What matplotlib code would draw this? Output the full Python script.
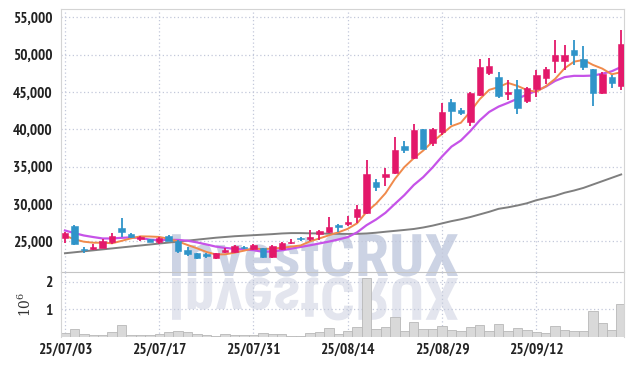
import matplotlib
matplotlib.use('Agg')
import matplotlib.pyplot as plt
import numpy as np
import pandas as pd
from matplotlib.textpath import TextPath
from matplotlib.patches import PathPatch
from matplotlib.font_manager import FontProperties
from matplotlib.transforms import Affine2D

# daily OHLC (KRW), 2025-07-03 .. 2025-09-25
opens = [25480, 27000, 24000, 23970, 24150, 24870, 26750, 26000, 25280, 25250,
         24900, 25700, 25050, 23900, 23400, 23250, 22800, 23600, 23600, 24200,
         23950, 24050, 22850, 23950, 24750, 25350, 25300, 25980, 26250, 27250,
         27280, 28300, 28800, 32950, 33650, 34100, 37750, 36150, 40000, 38100,
         39700, 43650, 42600, 41000, 44600, 47580, 47000, 44680, 45450, 43850,
         45450, 46800, 49200, 49200, 50600, 49350, 48050, 44800, 47000, 45850]
highs = [26300, 27250, 24300, 24600, 25300, 26070, 28100, 26150, 25750, 25350,
         25550, 25800, 25200, 24280, 23450, 23500, 23450, 24100, 24500, 24350,
         24600, 24150, 24450, 24950, 25250, 25620, 26500, 26450, 28300, 27300,
         28400, 29900, 35950, 33400, 34800, 39000, 38430, 40700, 40050, 40200,
         43500, 44000, 42800, 45000, 49400, 49500, 47700, 46540, 46600, 45700,
         47950, 48300, 51950, 51300, 51900, 51150, 48100, 47600, 47250, 53300]
lows = [24800, 24500, 23500, 23900, 24100, 24600, 25600, 25500, 25100, 24850,
        24600, 25000, 23500, 23030, 22650, 22800, 22600, 23500, 23500, 23950,
        23800, 22750, 22800, 23850, 24600, 25000, 25040, 25150, 26100, 26300,
        27100, 27400, 28700, 31800, 32400, 34000, 36860, 36000, 37300, 37800,
        39250, 40600, 41900, 40450, 44400, 47270, 44200, 43860, 42000, 43500,
        44300, 46000, 47500, 48000, 48550, 47950, 43100, 44700, 45550, 45200]
closes = [26150, 24700, 23900, 24280, 25050, 25750, 26300, 25600, 25620, 24950,
          25450, 25100, 23750, 23300, 22750, 23000, 23400, 23850, 24400, 24100,
          24500, 22850, 24350, 24800, 24950, 25280, 25580, 26340, 26870, 26950,
          27620, 29330, 33950, 32300, 33970, 37200, 37250, 39900, 37400, 40000,
          42270, 42500, 42200, 44900, 48300, 48470, 44400, 44950, 42900, 45550,
          47250, 48100, 49950, 49950, 50000, 48400, 44800, 47450, 46150, 51400]
# volume in millions of shares
volumes = [0.14, 0.29, 0.12, 0.07, 0.07, 0.19, 0.43, 0.07, 0.07, 0.07,
           0.12, 0.17, 0.23, 0.17, 0.12, 0.07, 0.05, 0.10, 0.08, 0.08,
           0.07, 0.15, 0.10, 0.10, 0.05, 0.05, 0.14, 0.19, 0.32, 0.12,
           0.20, 0.36, 2.12, 0.30, 0.36, 0.74, 0.23, 0.56, 0.29, 0.29,
           0.40, 0.25, 0.22, 0.35, 0.43, 0.23, 0.47, 0.22, 0.32, 0.25,
           0.19, 0.15, 0.40, 0.27, 0.23, 0.23, 0.95, 0.51, 0.27, 1.20]
# moving-average values before a full window is available
ma5_head = [25750, 25270, 24950, 24810]
ma10_head = [26450, 26100, 25780, 25570, 25380, 25380, 25470, 25520, 25450]
# long moving average
ma60 = [23400, 23530, 23660, 23790, 23920, 24050, 24180, 24310, 24440, 24570,
        24700, 24830, 24960, 25090, 25220, 25350, 25480, 25580, 25680, 25750,
        25820, 25890, 25960, 26050, 26100, 26100, 26070, 26050, 26020, 26000,
        25990, 26000, 26050, 26150, 26280, 26400, 26520, 26650, 26850, 27100,
        27400, 27700, 27950, 28250, 28600, 28950, 29350, 29550, 29800, 30090,
        30500, 30800, 31100, 31500, 31800, 32150, 32600, 33050, 33500, 33950]
tick_idx = [0, 10, 20, 30, 40, 50]
tick_labels = ['25/07/03', '25/07/17', '25/07/31', '25/08/14', '25/08/29', '25/09/12']

up_color = '#e3186a'
down_color = '#2f94c9'
grid_color = '#c3c8da'
font = ['PT Sans Narrow', 'DejaVu Sans']
plt.rcParams['font.family'] = font
plt.rcParams['font.weight'] = 'bold'
plt.rcParams['mathtext.fontset'] = 'dejavuserif'

df = pd.DataFrame({'open': opens, 'high': highs, 'low': lows, 'close': closes, 'vol': volumes})
idx = np.arange(len(df))
ma5 = df['close'].rolling(5).mean().to_numpy()
ma5[:4] = ma5_head
ma10 = df['close'].rolling(10).mean().to_numpy()
ma10[:9] = ma10_head

fig = plt.figure(figsize=(6.34, 3.66), dpi=100)
ax = fig.add_axes([0.0962, 0.2568, 0.888, 0.7186], facecolor='none')
axv = fig.add_axes([0.0962, 0.0792, 0.888, 0.1776], facecolor='none', sharex=ax)

# watermark with reflection, behind the axes
fp = FontProperties(family=['Roboto Condensed', 'DejaVu Sans'], weight='bold')
tp = TextPath((0, 0), 'InvestCRUX', size=60, prop=fp)
ext = tp.get_extents()
sx = 286.0 / ext.width
sy = 43.0 / ext.height
wm = PathPatch(tp, transform=Affine2D().translate(-ext.x0, 0).scale(sx, sy).translate(172, 90),
               facecolor='#ccd3e4', edgecolor='none', zorder=-1)
wr = PathPatch(tp, transform=Affine2D().translate(-ext.x0, 0).scale(sx, -sy).translate(172, 88),
               facecolor='#e3e5ee', edgecolor='none', zorder=-1)
fig.add_artist(wr)
fig.add_artist(wm)

# moving averages
ax.plot(idx, ma60, color='#7f7f7f', lw=1.4, zorder=2)
ax.plot(idx, ma10, color='#c653e8', lw=1.6, zorder=2)
ax.plot(idx, ma5, color='#f08a4b', lw=1.4, zorder=2)

# candles
colors = [up_color if c >= o else down_color for o, c in zip(df['open'], df['close'])]
bottoms = np.minimum(df['open'], df['close'])
heights = np.maximum(np.abs(df['close'] - df['open']), 120)
ax.vlines(idx, df['low'], df['high'], colors=colors, lw=1.3, zorder=3)
ax.bar(idx, heights, bottom=bottoms, width=0.68, color=colors, edgecolor=colors,
       linewidth=0.4, zorder=4)

ax.set_xlim(-0.42, 59.3)
ax.set_ylim(20890, 56100)
ax.set_yticks([25000, 30000, 35000, 40000, 45000, 50000, 55000])
ax.yaxis.set_major_formatter(matplotlib.ticker.FuncFormatter(lambda v, p: f'{int(v):,}'))
ax.set_xticks(tick_idx)
ax.tick_params(axis='x', labelbottom=False, length=0)
ax.tick_params(axis='y', length=0, pad=6, labelsize=11, labelcolor='#222222')
ax.grid(True, color=grid_color, linestyle=(0, (1, 2)), linewidth=0.9)
for s in ['left', 'top', 'right']:
    ax.spines[s].set_color('#d4d4d4')
ax.spines['bottom'].set_color('#c4c4c4')

# volume
axv.bar(idx, df['vol'], width=1.0, color='#d9d9d9', edgecolor='#b8b8b8', linewidth=0.6, zorder=2)
axv.set_ylim(0, 2.35)
axv.set_yticks([1, 2])
axv.set_xticks(tick_idx)
axv.set_xticklabels(tick_labels)
axv.tick_params(axis='both', length=0, labelsize=11, labelcolor='#222222')
axv.tick_params(axis='y', pad=6)
axv.tick_params(axis='x', pad=4)
axv.grid(True, color=grid_color, linestyle=(0, (1, 2)), linewidth=0.9)
axv.set_ylabel('$\\mathregular{10^{6}}$', fontsize=10, color='#333333', labelpad=8,
               fontweight='normal', family='DejaVu Serif')
axv.spines['top'].set_visible(False)
axv.spines['bottom'].set_visible(False)
for s in ['left', 'right']:
    axv.spines[s].set_color('#d4d4d4')

fig.savefig('out.png', dpi=100, facecolor='white')
